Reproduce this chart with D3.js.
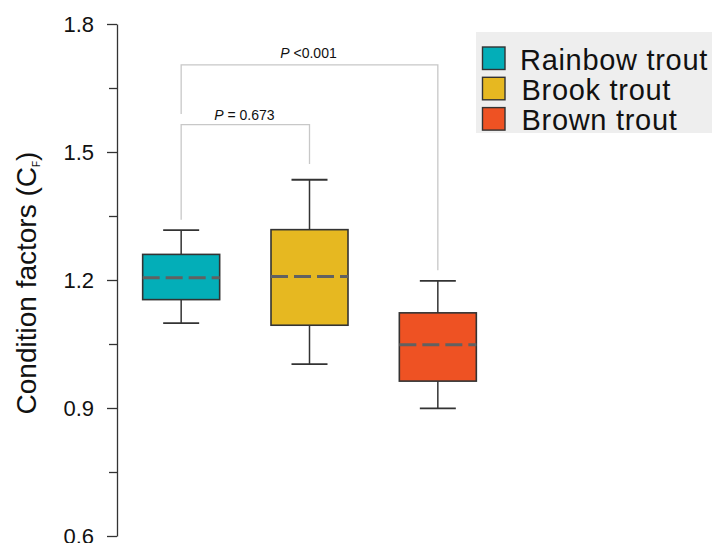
<!DOCTYPE html>
<html>
<head>
<meta charset="utf-8">
<script src="https://cdn.jsdelivr.net/npm/d3@7"></script>
<style>
  body { margin: 0; background: #fff; }
  svg { display: block; font-family: "Liberation Sans", Arial, sans-serif; }
</style>
</head>
<body>
<div id="chart"></div>
<script>
// Box summary values
const species = ['Rainbow trout', 'Brook trout', 'Brown trout'];
const colors = ['#03aeb8', '#e6b821', '#ee5223'];
const whiskerLow = [1.099, 1.003, 0.899];
const q1 = [1.154, 1.094, 0.963];
const median = [1.205, 1.208, 1.048];
const q3 = [1.260, 1.318, 1.123];
const whiskerHigh = [1.317, 1.435, 1.198];

// Significance brackets (indices into species, heights in CF units)
const bracketFrom = [0, 0];
const bracketTo = [1, 2];
const bracketTop = [1.564, 1.704];
const bracketLeftEnd = [1.341, 1.589];
const bracketRightEnd = [1.472, 1.223];
const bracketLabel = ['= 0.673', '<0.001'];

const yTicks = [0.6, 0.9, 1.2, 1.5, 1.8];
const yMinorTicks = [0.75, 1.05, 1.35, 1.65];

const width = 712, height = 543;
const margin = {top: 24, left: 117, bottom: 7};

const svg = d3.select('#chart').append('svg')
  .attr('width', width)
  .attr('height', height);

const yScale = d3.scaleLinear()
  .domain([0.6, 1.8])
  .range([height - margin.bottom, margin.top]);

const xScale = d3.scalePoint()
  .domain(species)
  .range([margin.left, 502])
  .padding(0.5);

const boxWidth = xScale.step() * 0.6;
const capHalf = 18;

// y axis, major and minor ticks
const yAxisG = svg.append('g')
  .attr('transform', `translate(${margin.left},0)`)
  .call(d3.axisLeft(yScale).tickValues(yTicks).tickFormat(d3.format('.1f'))
    .tickSize(10).tickSizeOuter(0).tickPadding(13));
yAxisG.selectAll('path, line').attr('stroke', '#333').attr('stroke-width', 1.3);
yAxisG.selectAll('text').attr('font-size', 22).attr('font-family', '"Liberation Sans", Arial, sans-serif').attr('fill', '#111');

const yMinorG = svg.append('g')
  .attr('transform', `translate(${margin.left},0)`)
  .call(d3.axisLeft(yScale).tickValues(yMinorTicks).tickFormat('').tickSize(8).tickSizeOuter(0));
yMinorG.select('.domain').remove();
yMinorG.selectAll('line').attr('stroke', '#333').attr('stroke-width', 1.3);

// y axis title
const yTitle = svg.append('text')
  .attr('transform', `translate(36,${yScale(1.2) + 3}) rotate(-90)`)
  .attr('text-anchor', 'middle')
  .attr('font-size', 28)
  .attr('fill', '#111');
yTitle.append('tspan').text('Condition factors (C');
yTitle.append('tspan').attr('font-size', 10).attr('dy', 4).text('F');
yTitle.append('tspan').attr('dy', -4).text(')');

// brackets
const brackets = bracketFrom.map((f, i) => ({
  x1: xScale(species[f]), x2: xScale(species[bracketTo[i]]),
  top: bracketTop[i], l: bracketLeftEnd[i], r: bracketRightEnd[i], label: bracketLabel[i]
}));

svg.selectAll('.bracket')
  .data(brackets)
  .join('path')
  .attr('class', 'bracket')
  .attr('fill', 'none')
  .attr('stroke', '#c8c8c8')
  .attr('stroke-width', 1.3)
  .attr('d', d => `M${d.x1},${yScale(d.l)}V${yScale(d.top)}H${d.x2}V${yScale(d.r)}`);

const bLabels = svg.selectAll('.bracket-label')
  .data(brackets)
  .join('text')
  .attr('class', 'bracket-label')
  .attr('x', d => (d.x1 + d.x2) / 2 - 1)
  .attr('y', (d, i) => yScale(d.top) - (i === 0 ? 4.5 : 7))
  .attr('text-anchor', 'middle')
  .attr('font-size', 14)
  .attr('fill', '#111');
bLabels.append('tspan').attr('font-style', 'italic').text('P');
bLabels.append('tspan').text(d => ' ' + d.label);

// boxes
const boxes = species.map((s, i) => ({
  name: s, color: colors[i], lo: whiskerLow[i], q1: q1[i], med: median[i], q3: q3[i], hi: whiskerHigh[i]
}));

const g = svg.selectAll('.box')
  .data(boxes)
  .join('g')
  .attr('class', 'box');

g.append('line')
  .attr('x1', d => xScale(d.name)).attr('x2', d => xScale(d.name))
  .attr('y1', d => yScale(d.hi)).attr('y2', d => yScale(d.lo))
  .attr('stroke', '#333').attr('stroke-width', 1.5);

g.selectAll('.cap')
  .data(d => [{x: xScale(d.name), v: d.lo}, {x: xScale(d.name), v: d.hi}])
  .join('line')
  .attr('class', 'cap')
  .attr('x1', d => d.x - capHalf).attr('x2', d => d.x + capHalf)
  .attr('y1', d => yScale(d.v)).attr('y2', d => yScale(d.v))
  .attr('stroke', '#333').attr('stroke-width', 1.8);

g.append('rect')
  .attr('x', d => xScale(d.name) - boxWidth / 2)
  .attr('width', boxWidth)
  .attr('y', d => yScale(d.q3))
  .attr('height', d => yScale(d.q1) - yScale(d.q3))
  .attr('fill', d => d.color)
  .attr('stroke', '#333')
  .attr('stroke-width', 1.6);

g.append('line')
  .attr('x1', d => xScale(d.name) - boxWidth / 2).attr('x2', d => xScale(d.name) + boxWidth / 2)
  .attr('y1', d => yScale(d.med)).attr('y2', d => yScale(d.med))
  .attr('stroke', '#616161').attr('stroke-width', 3)
  .attr('stroke-dasharray', '17,6');

// legend
const legend = svg.append('g');
legend.append('rect')
  .attr('x', 476).attr('y', 32)
  .attr('width', width - 476).attr('height', 101)
  .attr('fill', '#eeeeee');

const items = legend.selectAll('.item')
  .data(boxes)
  .join('g')
  .attr('class', 'item')
  .attr('transform', (d, i) => `translate(482.5,${47 + i * 30.3})`);

items.append('rect')
  .attr('width', 22.5).attr('height', 22.5)
  .attr('fill', d => d.color)
  .attr('stroke', '#333').attr('stroke-width', 1.4);

items.append('text')
  .attr('x', (d, i) => i === 0 ? 37.5 : 39)
  .attr('y', 22.5)
  .attr('font-size', 29)
  .attr('letter-spacing', 0.7)
  .attr('fill', '#111')
  .text(d => d.name);
</script>
</body>
</html>
